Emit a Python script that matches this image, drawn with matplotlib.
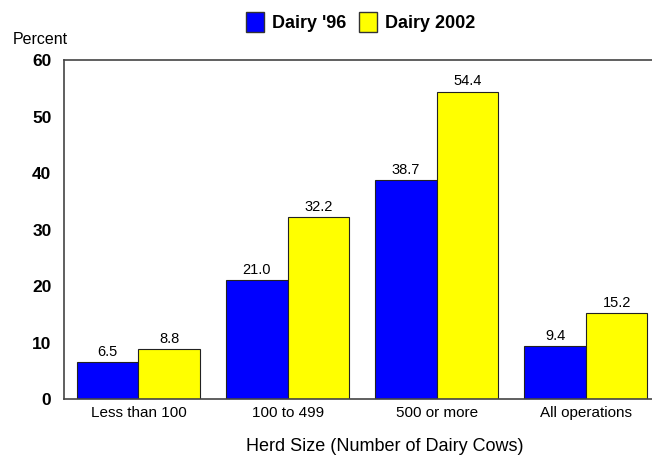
import matplotlib
matplotlib.use("Agg")
import matplotlib.pyplot as plt
import numpy as np
from matplotlib.patches import Patch

plt.rcParams['font.family'] = ['Liberation Sans', 'DejaVu Sans']

categories = ["Less than 100", "100 to 499", "500 or more", "All operations"]
dairy_96 = [6.5, 21.0, 38.7, 9.4]
dairy_2002 = [8.8, 32.2, 54.4, 15.2]
y_ticks = [0, 10, 20, 30, 40, 50, 60]

fig = plt.figure(figsize=(6.52, 4.55), dpi=100)
# axes run a little past the right edge of the figure, like the original
ax = fig.add_axes([0.098, 0.123, 0.915, 0.745])

x = np.arange(len(categories))
w = 0.412
b1 = ax.bar(x - w / 2, dairy_96, w, color="#0000ff", edgecolor="#222222", linewidth=0.8)
b2 = ax.bar(x + w / 2, dairy_2002, w, color="#ffff00", edgecolor="#222222", linewidth=0.8)

for bars, vals in ((b1, dairy_96), (b2, dairy_2002)):
    for r, v in zip(bars, vals):
        ax.text(r.get_x() + r.get_width() / 2, v + 0.6, f"{v:.1f}",
                ha="center", va="bottom", fontsize=10.5)

ax.set_xlim(-0.5, 3.5)
ax.set_ylim(0, 60)
ax.set_yticks(y_ticks)
ax.set_yticklabels([str(t) for t in y_ticks], fontweight="bold", fontsize=12.5)
ax.set_xticks(x)
ax.set_xticklabels(categories, fontsize=11)
ax.tick_params(axis="y", length=0, pad=9)
ax.tick_params(axis="x", length=0, pad=5)
for s in ax.spines.values():
    s.set_color("#444444")
    s.set_linewidth(1.2)

fig.text(0.59, 0.008, "Herd Size (Number of Dairy Cows)", fontsize=13, ha="center", va="baseline")
fig.text(0.019, 0.914, "Percent", fontsize=11.5, ha="left", va="center")

handles = [Patch(facecolor="#0000ff", edgecolor="#333333"),
           Patch(facecolor="#ffff00", edgecolor="#333333")]
fig.legend(handles, ["Dairy '96", "Dairy 2002"], loc="center", bbox_to_anchor=(0.553, 0.952),
           ncol=2, frameon=False, prop={"weight": "bold", "size": 13},
           handlelength=1.0, handleheight=1.3, handletextpad=0.45, columnspacing=0.7)

fig.savefig("out.png", dpi=100)
